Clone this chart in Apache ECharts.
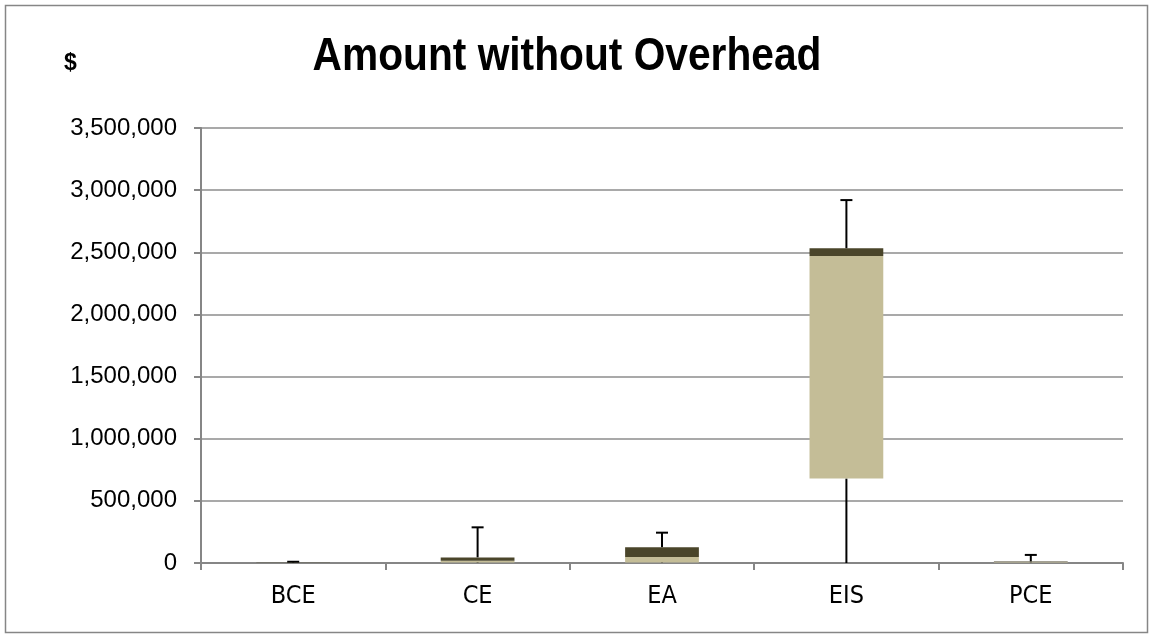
<!DOCTYPE html>
<html style="height: 100%">
   <head>
       <meta charset="utf-8">
   </head>
   <body style="height: 100%; margin: 0; background: #fff">
       <div id="container" style="height: 100%"></div>
       <script type="text/javascript" src="https://cdn.jsdelivr.net/npm/echarts@6/dist/echarts.min.js"></script>
       <script type="text/javascript">
var categories = ['BCE', 'CE', 'EA', 'EIS', 'PCE'];
// box plot statistics
var minVals = [0, 0, 0, 0, 0];
var q1Vals = [2000, 5000, 5000, 680000, 4000];
var medianVals = [3000, 18000, 48000, 2470000, 8000];
var q3Vals = [4000, 45000, 126000, 2532000, 12000];
var maxVals = [10000, 287000, 244000, 2920000, 65000];

var sansFont = "'Liberation Sans', Arial, sans-serif";
var narrowFont = "'Liberation Sans Narrow', 'Arial Narrow', 'DejaVu Sans Condensed', sans-serif";

var lowerBox = [], upperBox = [], lowerWhisker = [], upperWhisker = [];
for (var i = 0; i < categories.length; i++) {
    lowerBox.push(medianVals[i] - q1Vals[i]);
    upperBox.push(q3Vals[i] - medianVals[i]);
    lowerWhisker.push([i, minVals[i], q1Vals[i]]);
    upperWhisker.push([i, q3Vals[i], maxVals[i]]);
}

function whisker(withCap) {
    return function (params, api) {
        var idx = api.value(0);
        var lo = api.coord([idx, api.value(1)]);
        var hi = api.coord([idx, api.value(2)]);
        var style = {stroke: '#000', lineWidth: 2};
        var children = [
            {type: 'line', shape: {x1: lo[0], y1: lo[1], x2: hi[0], y2: hi[1]}, style: style}
        ];
        if (withCap) {
            children.push({type: 'line', shape: {x1: hi[0] - 6, y1: hi[1], x2: hi[0] + 6, y2: hi[1]}, style: style});
        }
        return {type: 'group', children: children};
    };
}

var dom = document.getElementById("container");
var myChart = echarts.init(dom);
option = {
    backgroundColor: '#fff',
    animation: false,
    graphic: [
        {type: 'rect', shape: {x: 5.5, y: 5.5, width: 1142, height: 627}, style: {fill: 'none', stroke: '#868686', lineWidth: 1.5}, silent: true},
        {
            type: 'text', x: 567, y: 57, scaleX: 0.885, silent: true,
            style: {text: 'Amount without Overhead', fontFamily: sansFont, fontWeight: 'bold', fontSize: 46, fill: '#000', align: 'center', verticalAlign: 'middle'}
        },
        {type: 'text', x: 64, y: 52, silent: true, style: {text: '$', fontFamily: sansFont, fontWeight: 'bold', fontSize: 23, fill: '#000'}}
    ],
    grid: {left: 201, right: 31, top: 128, bottom: 76},
    xAxis: {
        type: 'category',
        data: categories,
        axisLine: {lineStyle: {color: '#868686', width: 2}},
        axisTick: {show: true, length: 7, lineStyle: {color: '#868686', width: 2}},
        axisLabel: {fontFamily: narrowFont, fontSize: 25, color: '#000', margin: 21}
    },
    yAxis: {
        type: 'value',
        min: 0,
        max: 3500000,
        interval: 500000,
        axisLine: {show: true, lineStyle: {color: '#868686', width: 2}},
        axisTick: {show: true, length: 7, lineStyle: {color: '#868686', width: 2}},
        splitLine: {lineStyle: {color: '#8c8c8c', width: 1.5}},
        axisLabel: {
            fontFamily: sansFont,
            fontSize: 24,
            color: '#000',
            margin: 24,
            formatter: function (v) { return v.toLocaleString('en-US'); }
        }
    },
    series: [
        {type: 'custom', renderItem: whisker(false), data: lowerWhisker, encode: {x: 0, y: [1, 2]}, z: 1},
        {type: 'custom', renderItem: whisker(true), data: upperWhisker, encode: {x: 0, y: [1, 2]}, z: 1},
        {type: 'bar', stack: 'box', barWidth: '40%', data: q1Vals, itemStyle: {color: 'rgba(0,0,0,0)'}, z: 2},
        {type: 'bar', stack: 'box', barWidth: '40%', data: lowerBox, itemStyle: {color: '#C4BD97'}, z: 2},
        {type: 'bar', stack: 'box', barWidth: '40%', data: upperBox, itemStyle: {color: '#4A452A'}, z: 2}
    ]
};
if (option && typeof option === "object") {
    myChart.setOption(option, true);
}
       </script>
   </body>
</html>
